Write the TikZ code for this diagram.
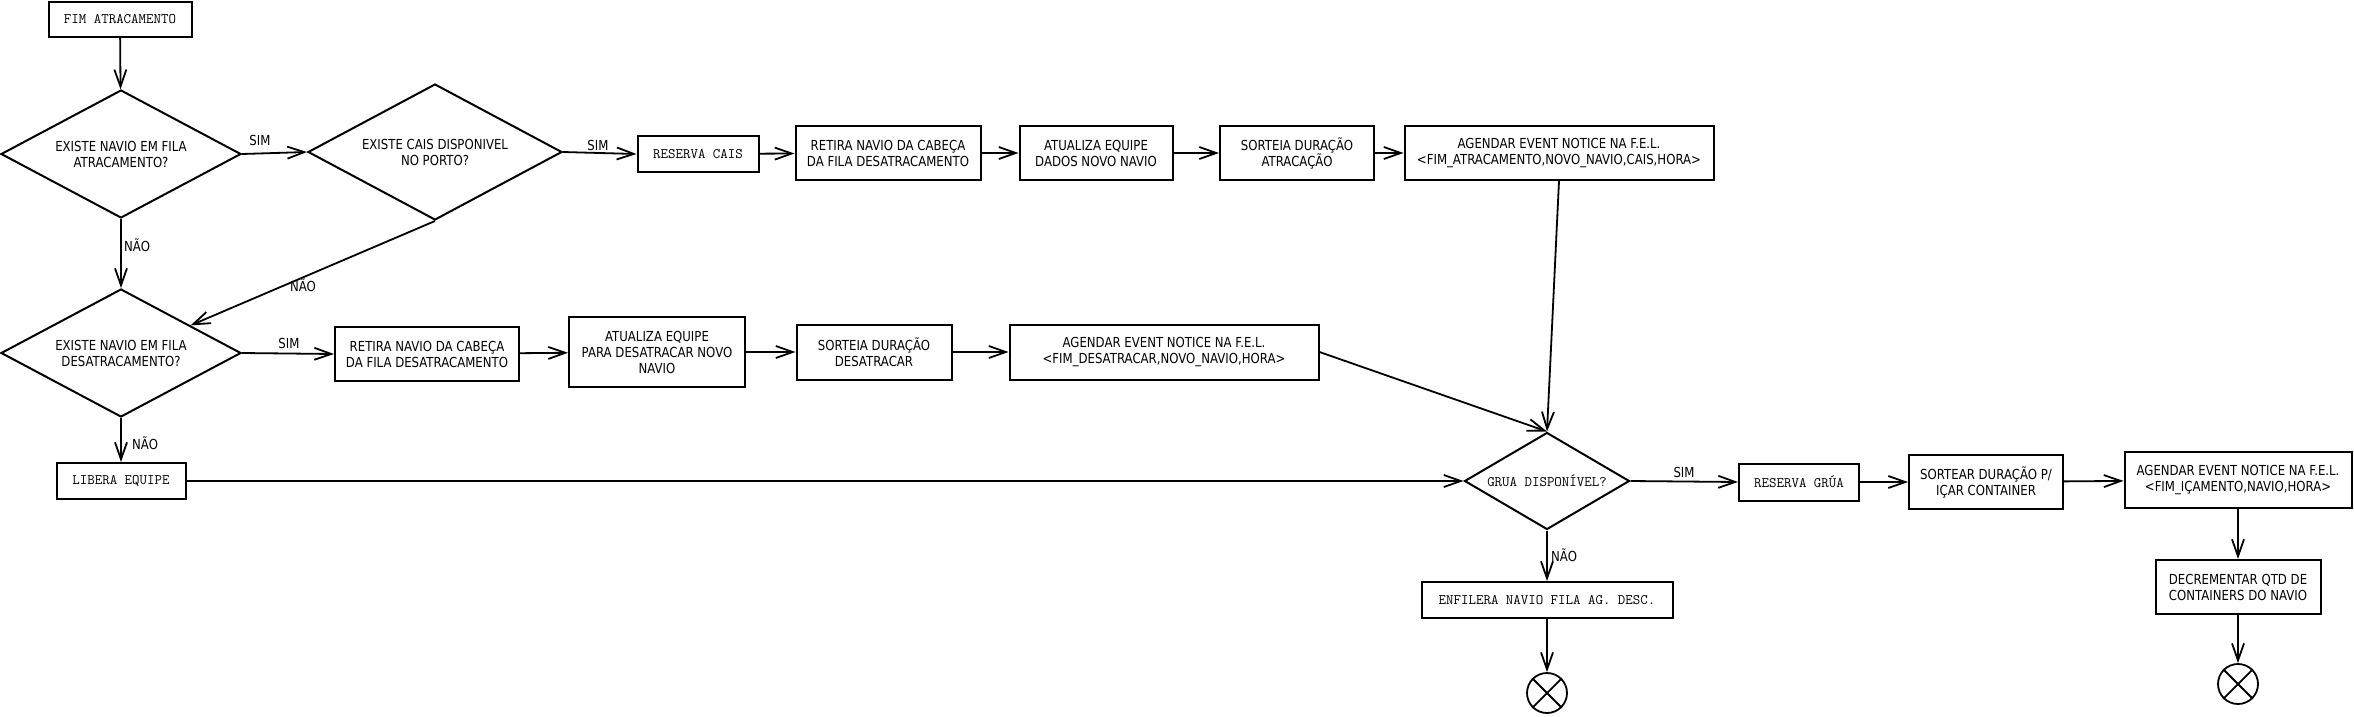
\documentclass[tikz,border=0pt]{standalone}
\usepackage{fontspec}
\setmainfont[FakeStretch=0.85]{DejaVu Sans}
\usetikzlibrary{shapes.geometric,arrows.meta,calc}
\begin{document}
\begin{tikzpicture}[x=1pt,y=-1pt,
  box/.style={draw,line width=2pt,rectangle,inner sep=0pt,align=center,font=\fontsize{13.8}{16}\selectfont},
  mbox/.style={box,font=\fontsize{14.5}{16}\ttfamily},
  dia/.style={draw,line width=2pt,diamond,inner sep=0pt,align=center,font=\fontsize{13.8}{16}\selectfont},
  ar/.style={line width=1.8pt,-{Straight Barb[length=17pt,width=12pt]}},
  lbl/.style={font=\fontsize{13.8}{16}\selectfont,inner sep=0pt},
  endc/.style={draw,line width=1.8pt,circle,minimum size=40pt,inner sep=0pt}
]
\useasboundingbox (0,0) rectangle (2354,716);

% nodes
\node[mbox,minimum width=143pt,minimum height=35pt] (fim) at (120,19.5) {FIM ATRACAMENTO};
\node[dia,aspect=1.875,minimum width=240pt,minimum height=128pt] (d1) at (121,154) {EXISTE NAVIO EM FILA\\ATRACAMENTO?};
\node[dia,aspect=1.87,minimum width=254pt,minimum height=136pt] (d2) at (435,152) {EXISTE CAIS DISPONIVEL\\NO PORTO?};
\node[mbox,minimum width=121pt,minimum height=36pt] (rescais) at (698,154) {RESERVA CAIS};
\node[box,minimum width=185pt,minimum height=54pt] (ret1) at (888,153) {RETIRA NAVIO DA CABEÇA\\DA FILA DESATRACAMENTO};
\node[box,minimum width=153pt,minimum height=54pt] (atu1) at (1096,153) {ATUALIZA EQUIPE\\DADOS NOVO NAVIO};
\node[box,minimum width=154pt,minimum height=54pt] (sor1) at (1297,153) {SORTEIA DURAÇÃO\\ATRACAÇÃO};
\node[box,minimum width=309pt,minimum height=54pt] (age1) at (1559,153) {AGENDAR EVENT NOTICE NA F.E.L.\\<FIM\_ATRACAMENTO,NOVO\_NAVIO,CAIS,HORA>};

\node[dia,aspect=1.875,minimum width=240pt,minimum height=128pt] (d3) at (121,353) {EXISTE NAVIO EM FILA\\DESATRACAMENTO?};
\node[box,minimum width=184pt,minimum height=54pt] (ret2) at (427,354) {RETIRA NAVIO DA CABEÇA\\DA FILA DESATRACAMENTO};
\node[box,minimum width=176pt,minimum height=70pt] (atu2) at (657,352) {ATUALIZA EQUIPE\\PARA DESATRACAR NOVO\\NAVIO};
\node[box,minimum width=155pt,minimum height=55pt] (sor2) at (874,352) {SORTEIA DURAÇÃO\\DESATRACAR};
\node[box,minimum width=309pt,minimum height=55pt] (age2) at (1164,352) {AGENDAR EVENT NOTICE NA F.E.L.\\<FIM\_DESATRACAR,NOVO\_NAVIO,HORA>};

\node[mbox,minimum width=129pt,minimum height=36pt] (lib) at (121,481) {LIBERA EQUIPE};
\node[dia,aspect=1.7,minimum width=165pt,minimum height=97pt,font=\fontsize{14.5}{16}\ttfamily] (grua) at (1547,481) {GRUA DISPONÍVEL?};
\node[mbox,minimum width=120pt,minimum height=37pt] (resg) at (1799,482) {RESERVA GRÚA};
\node[box,minimum width=154pt,minimum height=54pt] (sor3) at (1986,482) {SORTEAR DURAÇÃO P/\\IÇAR CONTAINER};
\node[box,minimum width=227pt,minimum height=56pt] (age3) at (2238,480) {AGENDAR EVENT NOTICE NA F.E.L.\\<FIM\_IÇAMENTO,NAVIO,HORA>};
\node[box,minimum width=165pt,minimum height=54pt] (dec) at (2238,587) {DECREMENTAR QTD DE\\CONTAINERS DO NAVIO};
\node[mbox,minimum width=251pt,minimum height=36pt] (enf) at (1547,600) {ENFILERA NAVIO FILA AG. DESC.};

\node[endc] (end1) at (1547,693) {};
\draw[line width=1.8pt] (end1.north west) -- (end1.south east) (end1.north east) -- (end1.south west);
\node[endc] (end2) at (2238,684) {};
\draw[line width=1.8pt] (end2.north west) -- (end2.south east) (end2.north east) -- (end2.south west);

\coordinate (d3in) at ($(d3.north)!0.575!(d3.east)$);

% connectors
\draw[ar] (fim) -- (d1);
\draw[ar] (d1.east) -- (d2.west);
\draw[ar] (d2.east) -- (rescais.west);
\draw[ar] (rescais) -- (ret1);
\draw[ar] (ret1) -- (atu1);
\draw[ar] (atu1) -- (sor1);
\draw[ar] (sor1) -- (age1);
\draw[ar] (age1.south) -- (grua.north);
\draw[ar] (d1.south) -- (d3.north);
\draw[ar] (d2.south) -- (d3in);
\draw[ar] (d3.east) -- (ret2.west);
\draw[ar] (ret2) -- (atu2);
\draw[ar] (atu2) -- (sor2);
\draw[ar] (sor2) -- (age2);
\draw[ar] (age2.east) -- (grua.north);
\draw[ar] (d3.south) -- (lib.north);
\draw[ar] (lib.east) -- (grua.west);
\draw[ar] (grua.east) -- (resg.west);
\draw[ar] (resg) -- (sor3);
\draw[ar] (sor3) -- (age3);
\draw[ar] (age3) -- (dec);
\draw[ar] (dec) -- (end2);
\draw[ar] (grua.south) -- (enf.north);
\draw[ar] (enf) -- (end1);

% labels
\node[lbl] (l1) at (260,140) {SIM};
\node[lbl] (l2) at (598,145) {SIM};
\node[lbl] (l3) at (289,343) {SIM};
\node[lbl] (l4) at (1684,472) {SIM};
\node[lbl,anchor=west] (l5) at (124,245) {NÃO};
\node[lbl,anchor=west] (l6) at (132,443) {NÃO};
\node[lbl,anchor=west] (l7) at (1551,555) {NÃO};
\node[lbl] (l8) at (303,285) {NÃO};
\end{tikzpicture}
\end{document}
